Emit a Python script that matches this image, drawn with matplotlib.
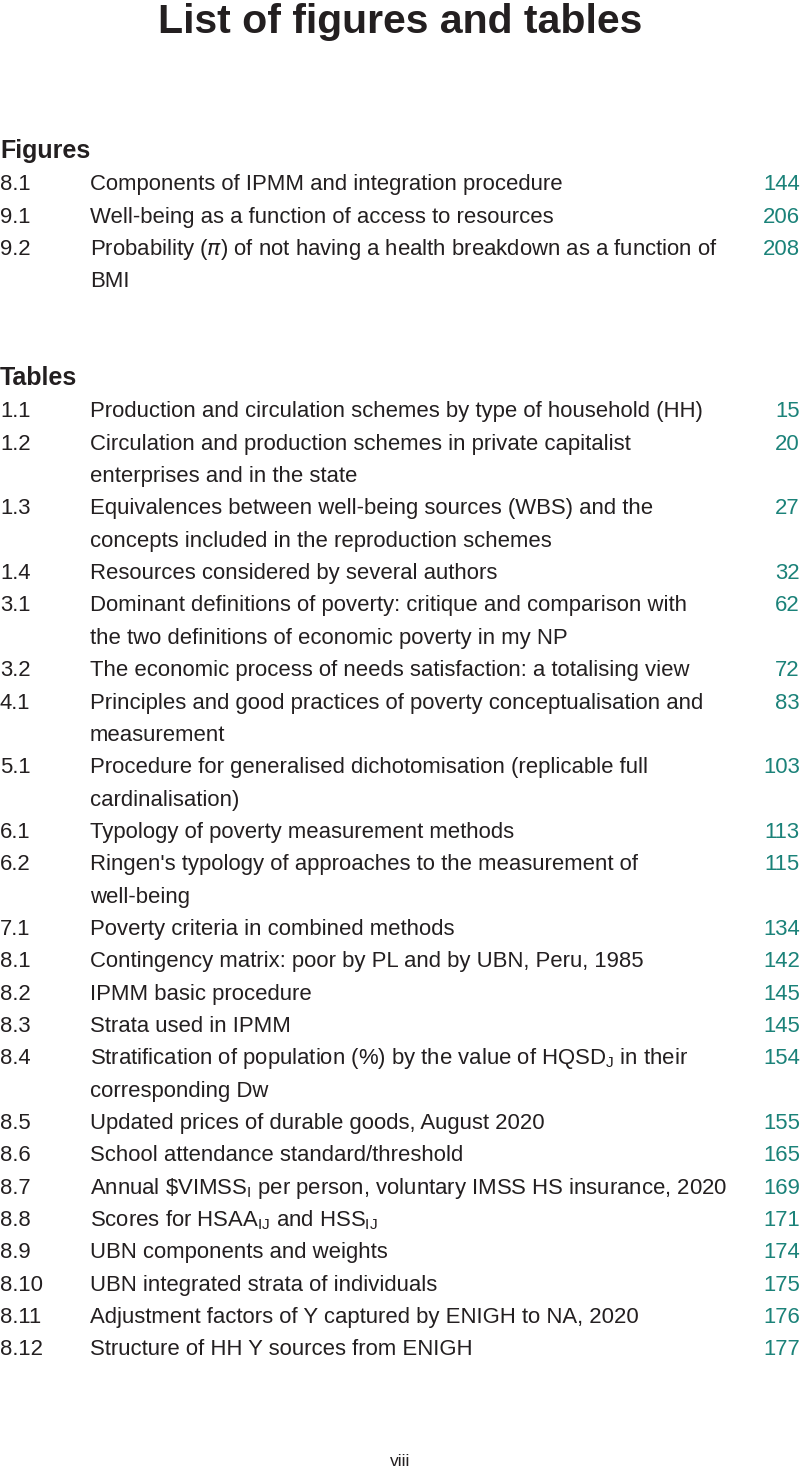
import matplotlib
matplotlib.use('Agg')
import matplotlib.pyplot as plt

# fuente angosta parecida a la del libro
plt.rcParams['font.family'] = ['Liberation Sans Narrow', 'Liberation Sans', 'DejaVu Sans']
plt.rcParams['mathtext.fontset'] = 'custom'

titulo = 'List of figures and tables'

fig_nums = ['8.1', '9.1', '9.2']
fig_titles = [['Components of IPMM and integration procedure'],
              ['Well-being as a function of access to resources'],
              [r'Probability ($\pi$) of not having a health breakdown as a function of', 'BMI']]
fig_pages = ['144', '206', '208']

tab_nums = ['1.1', '1.2', '1.3', '1.4', '3.1', '3.2', '4.1', '5.1', '6.1', '6.2', '7.1',
            '8.1', '8.2', '8.3', '8.4', '8.5', '8.6', '8.7', '8.8', '8.9', '8.10', '8.11', '8.12']
tab_titles = [
    ['Production and circulation schemes by type of household (HH)'],
    ['Circulation and production schemes in private capitalist', 'enterprises and in the state'],
    ['Equivalences between well-being sources (WBS) and the', 'concepts included in the reproduction schemes'],
    ['Resources considered by several authors'],
    ['Dominant definitions of poverty: critique and comparison with', 'the two definitions of economic poverty in my NP'],
    ['The economic process of needs satisfaction: a totalising view'],
    ['Principles and good practices of poverty conceptualisation and', 'measurement'],
    ['Procedure for generalised dichotomisation (replicable full', 'cardinalisation)'],
    ['Typology of poverty measurement methods'],
    ["Ringen's typology of approaches to the measurement of", 'well-being'],
    ['Poverty criteria in combined methods'],
    ['Contingency matrix: poor by PL and by UBN, Peru, 1985'],
    ['IPMM basic procedure'],
    ['Strata used in IPMM'],
    [r'Stratification of population (%) by the value of HQSD$_{\mathregular{J}}$ in their', 'corresponding Dw'],
    ['Updated prices of durable goods, August 2020'],
    ['School attendance standard/threshold'],
    [r'Annual \$VIMSS$_{\mathregular{I}}$ per person, voluntary IMSS HS insurance, 2020'],
    [r'Scores for HSAA$_{\mathregular{IJ}}$ and HSS$_{\mathregular{IJ}}$'],
    ['UBN components and weights'],
    ['UBN integrated strata of individuals'],
    ['Adjustment factors of Y captured by ENIGH to NA, 2020'],
    ['Structure of HH Y sources from ENIGH'],
]
tab_pages = ['15', '20', '27', '32', '62', '72', '83', '103', '113', '115', '134',
             '142', '145', '145', '154', '155', '165', '169', '171', '174', '175', '176', '177']

negro = '#231f20'
verde = '#1b8279'
tam = 15.9
paso = 32.35

fig = plt.figure(figsize=(8, 14.67), dpi=100)
ax = fig.add_axes([0, 0, 1, 1])
ax.set_xlim(0, 800)
ax.set_ylim(1467, 0)
ax.axis('off')

ax.text(400, 33, titulo, ha='center', va='baseline', fontsize=29.5, fontweight='bold', color=negro)


def lista(encabezado, y0, nums, titulos, paginas):
    # y0 es la linea base del encabezado
    ax.text(0, y0, encabezado, ha='left', va='baseline', fontsize=18, fontweight='bold', color=negro)
    y = y0 + paso
    for n, t, p in zip(nums, titulos, paginas):
        ax.text(0, y, n, ha='left', va='baseline', fontsize=tam, color=negro)
        ax.text(800, y, p, ha='right', va='baseline', fontsize=tam, color=verde)
        for linea in t:
            ax.text(90, y, linea, ha='left', va='baseline', fontsize=tam, color=negro)
            y += paso


lista('Figures', 158, fig_nums, fig_titles, fig_pages)
lista('Tables', 385, tab_nums, tab_titles, tab_pages)

ax.text(400, 1466, 'viii', ha='center', va='baseline', fontsize=12.5, color=negro)

fig.savefig('out.png', dpi=100)
